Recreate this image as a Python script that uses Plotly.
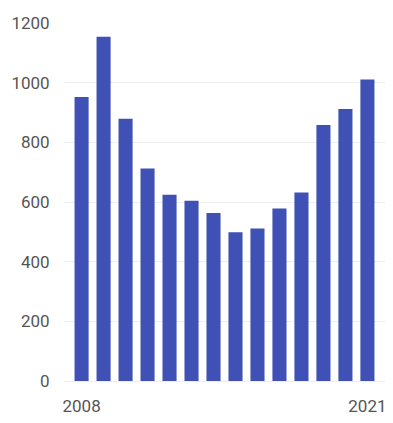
import plotly.graph_objects as go

years = list(range(2008, 2022))
values = [952, 1154, 879, 712, 624, 604, 563, 499, 511, 578, 632, 858, 912, 1011]
y_ticks = [0, 200, 400, 600, 800, 1000, 1200]
x_ticks = [2008, 2021]

font_family = "Roboto, sans-serif"

fig = go.Figure(
    go.Bar(
        x=years,
        y=values,
        marker=dict(color="#3F51B5", line=dict(width=0)),
        width=0.64,
    )
)

fig.update_layout(
    width=393,
    height=423,
    margin=dict(l=64, r=7, t=23, b=40),
    paper_bgcolor="white",
    plot_bgcolor="white",
    showlegend=False,
    font=dict(family=font_family, size=17, color="#555555"),
)

fig.update_xaxes(
    range=[2007.2, 2021.8],
    tickvals=x_ticks,
    ticktext=[str(v) for v in x_ticks],
    showgrid=False,
    zeroline=False,
    showline=False,
    ticks="outside",
    ticklen=10,
    tickcolor="rgba(0,0,0,0)",
)

fig.update_yaxes(
    range=[0, 1200],
    tickvals=y_ticks,
    showgrid=True,
    gridcolor="#eeeeee",
    gridwidth=1,
    zeroline=True,
    zerolinecolor="#eeeeee",
    zerolinewidth=1,
    showline=False,
    ticks="outside",
    ticklen=10,
    tickcolor="rgba(0,0,0,0)",
)

fig.write_html("out.html")
